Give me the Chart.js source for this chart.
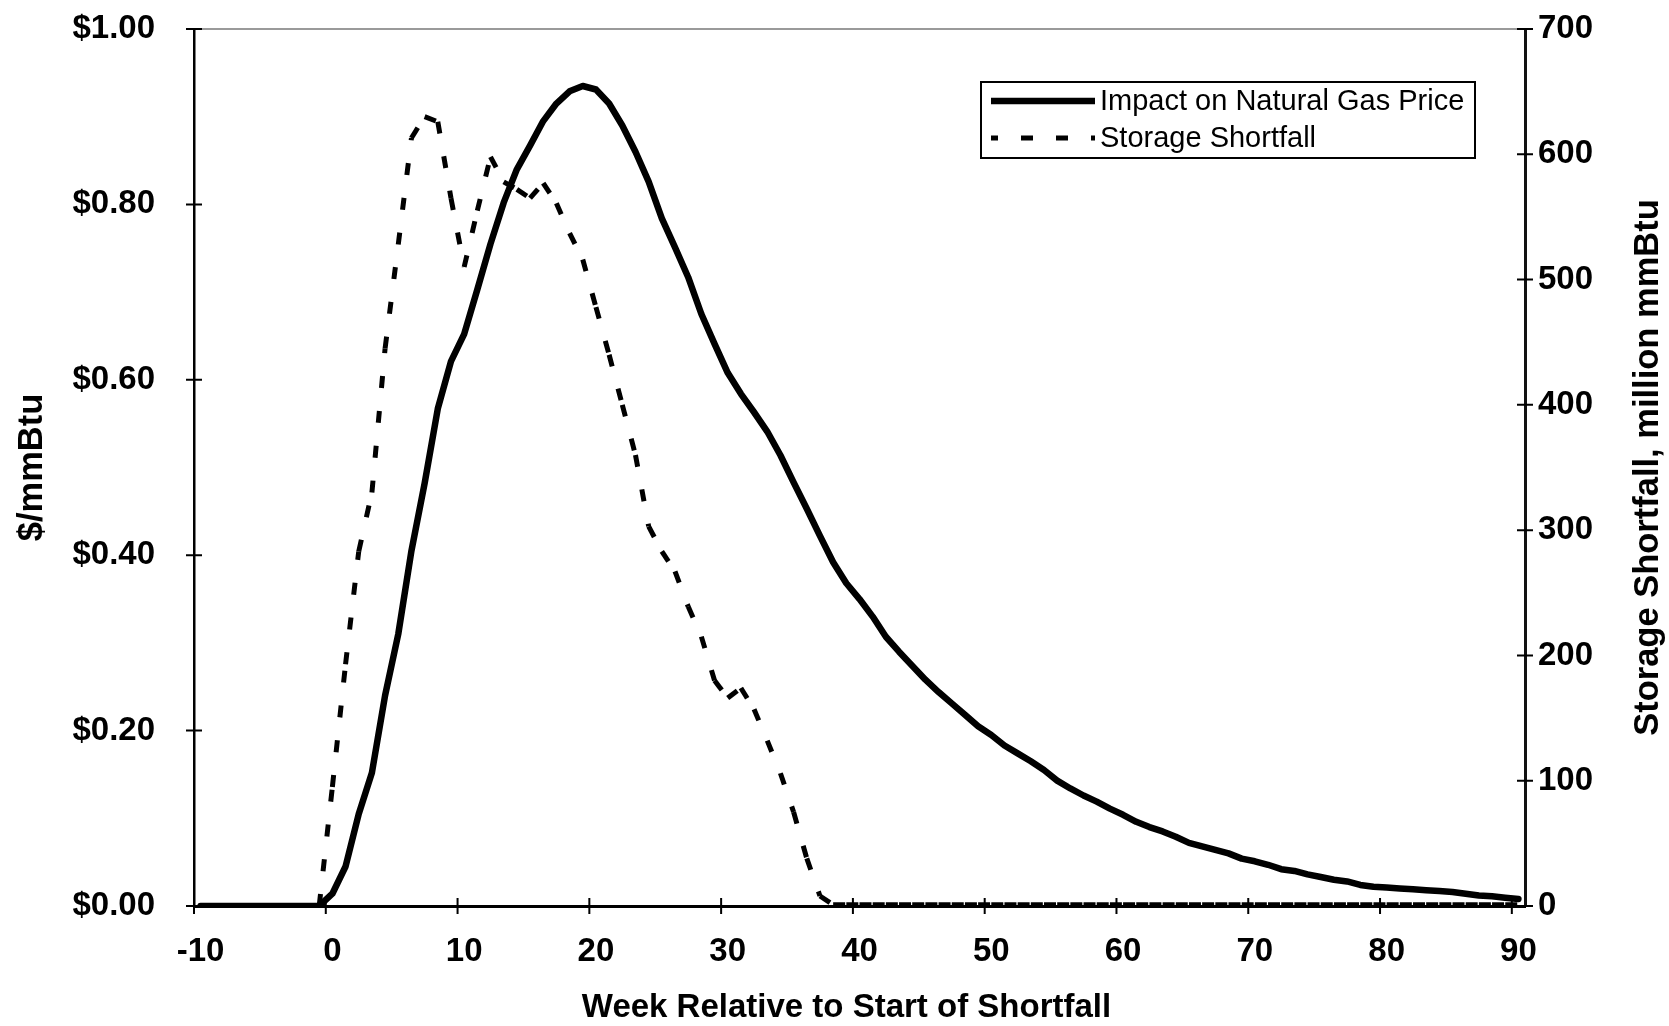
<!DOCTYPE html>
<html>
<head>
<meta charset="utf-8">
<title>Impact on Natural Gas Price</title>
<script src="https://cdn.jsdelivr.net/npm/chart.js@4.4.1/dist/chart.umd.min.js"></script>
<style>
    html, body { margin: 0; padding: 0; background: #fff; }
    #wrap { width: 1669px; height: 1026px; }
</style>
</head>
<body>
<div id="wrap"><canvas id="gasChart"></canvas></div>
<script>
// =======================
// Natural gas storage shortfall chart
// =======================

// ---------- DATA ----------
const weeks = [
    -10, -9, -8, -7, -6, -5, -4, -3, -2, -1,
    0, 1, 2, 3, 4, 5, 6, 7, 8, 9,
    10, 11, 12, 13, 14, 15, 16, 17, 18, 19,
    20, 21, 22, 23, 24, 25, 26, 27, 28, 29,
    30, 31, 32, 33, 34, 35, 36, 37, 38, 39,
    40, 41, 42, 43, 44, 45, 46, 47, 48, 49,
    50, 51, 52, 53, 54, 55, 56, 57, 58, 59,
    60, 61, 62, 63, 64, 65, 66, 67, 68, 69,
    70, 71, 72, 73, 74, 75, 76, 77, 78, 79,
    80, 81, 82, 83, 84, 85, 86, 87, 88, 89,
    90
];

// labelled weeks on the x axis
const xTickWeeks = [-10, 0, 10, 20, 30, 40, 50, 60, 70, 80, 90];

// $/mmBtu (left axis)
const priceImpact = [
    0, 0, 0, 0, 0, 0, 0, 0, 0, 0,
    0.014, 0.045, 0.105, 0.152, 0.240, 0.310, 0.405, 0.482, 0.567, 0.621,
    0.652, 0.703, 0.755, 0.802, 0.840, 0.867, 0.895, 0.915, 0.929, 0.935,
    0.931, 0.915, 0.890, 0.860, 0.826, 0.784, 0.751, 0.717, 0.675, 0.641,
    0.608, 0.584, 0.563, 0.541, 0.514, 0.483, 0.453, 0.422, 0.392, 0.368,
    0.350, 0.330, 0.307, 0.290, 0.274, 0.258, 0.244, 0.231, 0.218, 0.205,
    0.195, 0.183, 0.174, 0.165, 0.155, 0.143, 0.134, 0.126, 0.119, 0.111,
    0.104, 0.096, 0.090, 0.085, 0.079, 0.072, 0.068, 0.064, 0.060, 0.054,
    0.051, 0.047, 0.042, 0.040, 0.036, 0.033, 0.030, 0.028, 0.024, 0.022,
    0.021, 0.020, 0.019, 0.018, 0.017, 0.016, 0.014, 0.012, 0.011, 0.0095,
    0.008
];

// million mmBtu (right axis)
const storageShortfall = [
    0, 0, 0, 0, 0, 0, 0, 0, 0, 0,
    95, 193, 283, 330, 445, 528, 613, 630, 626, 565,
    510, 555, 598, 578, 572, 565, 577, 561, 537, 516,
    478, 440, 400, 360, 303, 283, 267, 239, 215, 180,
    166, 174, 157, 132, 106, 75, 38, 8, 1, 1,
    1, 1, 1, 1, 1, 1, 1, 1, 1, 1,
    1, 1, 1, 1, 1, 1, 1, 1, 1, 1,
    1, 1, 1, 1, 1, 1, 1, 1, 1, 1,
    1, 1, 1, 1, 1, 1, 1, 1, 1, 1,
    1, 1, 1, 1, 1, 1, 1, 1, 1, 1,
    1
];

const leftTitle = "$/mmBtu";
const rightTitle = "Storage Shortfall, million mmBtu";
const xTitle = "Week Relative to Start of Shortfall";

// ---------- STYLE ----------
const FONT = "'Liberation Sans', Arial, Helvetica, sans-serif";
Chart.defaults.font.family = FONT;
Chart.defaults.color = "#000";

const tickFont = { family: FONT, size: 33, weight: "bold" };
const titleFont = { family: FONT, size: 33, weight: "bold", lineHeight: 1.2 };
const sideTitleSize = 34.5;
const DASH = [12, 23];

// ---------- FRAME, TICKS, TITLES, LEGEND ----------
const excelFrame = {
    id: "excelFrame",
    beforeDatasetsDraw(chart) {
        const { ctx, chartArea: a, scales } = chart;
        const half = 8;

        ctx.save();
        // grey top edge of the plot area
        ctx.strokeStyle = "#9a9a9a";
        ctx.lineWidth = 2;
        ctx.beginPath();
        ctx.moveTo(a.left, a.top);
        ctx.lineTo(a.right, a.top);
        ctx.stroke();

        // tick marks that cross the axes
        ctx.strokeStyle = "#000";
        ctx.lineWidth = 2;
        ctx.beginPath();
        scales.y.ticks.forEach(t => {
            const py = scales.y.getPixelForValue(t.value);
            ctx.moveTo(a.left - half, py);
            ctx.lineTo(a.left + half, py);
        });
        scales.y2.ticks.forEach(t => {
            const py = scales.y2.getPixelForValue(t.value);
            ctx.moveTo(a.right - half, py);
            ctx.lineTo(a.right + half, py);
        });
        xTickWeeks.forEach(w => {
            const px = scales.x.getPixelForValue(weeks.indexOf(w) - 0.5);
            ctx.moveTo(px, a.bottom - half);
            ctx.lineTo(px, a.bottom + half);
        });
        ctx.stroke();
        ctx.restore();
    },
    afterDraw(chart) {
        const { ctx, chartArea: a, scales } = chart;

        ctx.save();
        ctx.fillStyle = "#000";
        ctx.textAlign = "center";
        ctx.textBaseline = "middle";

        // x axis title (sits a little left of the plot centre in the original)
        ctx.font = `bold ${titleFont.size}px ${FONT}`;
        ctx.fillText(xTitle, (a.left + a.right) / 2 - 13, scales.x.bottom - 18);

        // left axis title
        ctx.font = `bold ${sideTitleSize}px ${FONT}`;
        ctx.save();
        ctx.translate(32, (a.top + a.bottom) / 2);
        ctx.rotate(-Math.PI / 2);
        ctx.fillText(leftTitle, 0, 0);
        ctx.restore();

        // right axis title, reading bottom to top
        ctx.translate(scales.y2.right - 21, (a.top + a.bottom) / 2);
        ctx.rotate(-Math.PI / 2);
        ctx.fillText(rightTitle, 0, 0);
        ctx.restore();

        // legend box
        const box = { x: 981, y: 82, w: 494, h: 76 };
        ctx.save();
        ctx.fillStyle = "#fff";
        ctx.fillRect(box.x, box.y, box.w, box.h);
        ctx.strokeStyle = "#000";
        ctx.lineWidth = 2;
        ctx.strokeRect(box.x, box.y, box.w, box.h);

        ctx.font = `29px ${FONT}`;
        ctx.textBaseline = "middle";
        ctx.textAlign = "left";
        chart.data.datasets.forEach((ds, i) => {
            const cy = box.y + 19 + i * 37;
            ctx.beginPath();
            ctx.strokeStyle = ds.borderColor;
            ctx.lineWidth = ds.borderWidth;
            ctx.lineCap = "butt";
            ctx.setLineDash(ds.borderDash || []);
            ctx.lineDashOffset = ds.borderDash ? 5 : 0;
            ctx.moveTo(box.x + 10, cy);
            ctx.lineTo(box.x + 114, cy);
            ctx.stroke();
            ctx.setLineDash([]);
            ctx.fillStyle = "#000";
            ctx.fillText(ds.label, box.x + 119, cy + 1);
        });
        ctx.restore();
    }
};

// ---------- CHART ----------
const canvas = document.getElementById("gasChart");

new Chart(canvas, {
    type: "line",
    data: {
        labels: weeks,
        datasets: [
            {
                label: "Impact on Natural Gas Price",
                data: priceImpact,
                yAxisID: "y",
                borderColor: "#000",
                borderWidth: 6.5,
                borderJoinStyle: "round",
                borderCapStyle: "round",
                pointRadius: 0,
                tension: 0
            },
            {
                label: "Storage Shortfall",
                data: storageShortfall,
                yAxisID: "y2",
                borderColor: "#000",
                borderWidth: 5,
                borderDash: DASH,
                borderCapStyle: "butt",
                pointRadius: 0,
                tension: 0,
                // restart the dash pattern on every segment, like the original
                segment: {
                    borderDashOffset: ctx => (ctx.p0DataIndex % 2) * 0.001
                }
            }
        ]
    },
    plugins: [excelFrame],
    options: {
        responsive: true,
        maintainAspectRatio: false,
        animation: false,
        layout: { padding: { top: 29, left: 0, right: 0, bottom: 0 } },
        plugins: {
            legend: { display: false },
            tooltip: { enabled: false }
        },
        scales: {
            x: {
                type: "category",
                offset: true,
                grid: { display: false, drawTicks: false },
                border: { display: true, color: "#000", width: 3 },
                ticks: {
                    autoSkip: false,
                    maxRotation: 0,
                    padding: 26,
                    font: tickFont,
                    callback(value, index) {
                        const w = weeks[index];
                        return xTickWeeks.includes(w) ? String(w) : "";
                    }
                },
                afterFit(scale) { scale.height = 120; }
            },
            y: {
                position: "left",
                min: 0,
                max: 1,
                grid: { display: false, drawTicks: false },
                border: { display: true, color: "#000", width: 2.5 },
                ticks: {
                    stepSize: 0.2,
                    padding: 39,
                    font: tickFont,
                    callback(value) {
                        return "$" + value.toFixed(2);
                    }
                },
                afterFit(scale) {
                    scale.width = 194;
                    scale.paddingTop = 0;
                    scale.paddingBottom = 0;
                }
            },
            y2: {
                position: "right",
                min: 0,
                max: 700,
                grid: { display: false, drawTicks: false },
                border: { display: true, color: "#111", width: 3 },
                ticks: {
                    stepSize: 100,
                    padding: 13,
                    font: tickFont
                },
                afterFit(scale) {
                    scale.width = 144;
                    scale.paddingTop = 0;
                    scale.paddingBottom = 0;
                }
            }
        }
    }
});
</script>
</body>
</html>
